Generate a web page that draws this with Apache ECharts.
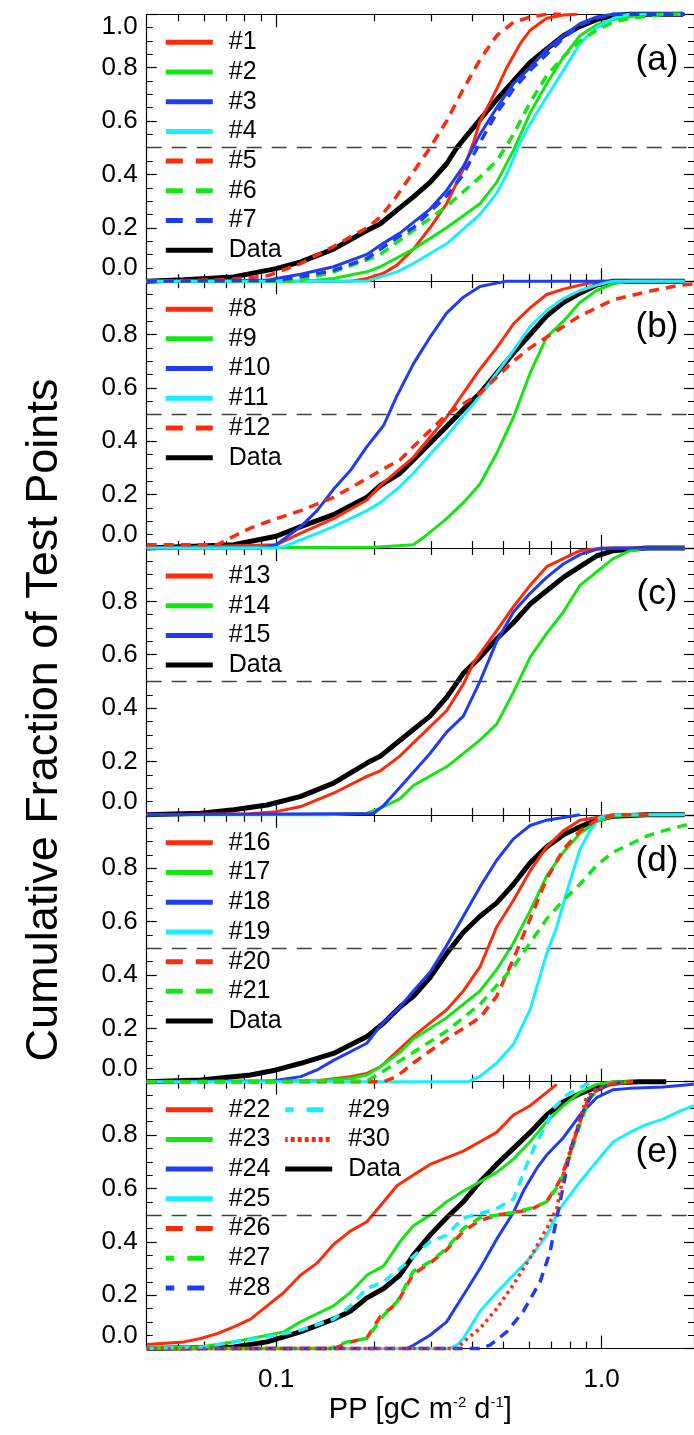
<!DOCTYPE html>
<html><head><meta charset="utf-8">
<script src="https://cdn.jsdelivr.net/npm/echarts@6/dist/echarts.min.js"></script>
<style>html,body{margin:0;padding:0;background:#fff}#c{width:694px;height:1435px}</style>
</head><body><div id="c"></div>
<script>
// ---------- axis values ----------
const X_MIN = 0.04, X_MAX = 1.923;
const xLabelValues = [0.1, 1.0];
const xMajorTicks = [0.1, 1.0];
const xMinorTicks = [0.05,0.06,0.07,0.08,0.09,0.2,0.3,0.4,0.5,0.6,0.7,0.8,0.9];
const yMin = 0, yMax = 1, yStep = 0.2;
const refLine = 0.5;
const panelLetters = ['(a)','(b)','(c)','(d)','(e)'];
const yTitle = 'Cumulative Fraction of Test Points';

// ---------- panel (a) ----------
const dataA = [[0.04,0],[0.052,0.005],[0.074,0.016],[0.1,0.047],[0.119,0.072],[0.15,0.12],[0.19,0.19],[0.209,0.215],[0.235,0.266],[0.264,0.316],[0.297,0.37],[0.334,0.44],[0.359,0.5],[0.376,0.53],[0.413,0.59],[0.476,0.68],[0.536,0.75],[0.603,0.82],[0.678,0.87],[0.763,0.92],[0.858,0.955],[0.965,0.98],[1.086,0.995],[1.22,1.0],[1.78,1.0]];
const m1 = [[0.04,0],[0.17,0],[0.19,0.01],[0.214,0.03],[0.235,0.06],[0.264,0.12],[0.297,0.2],[0.334,0.29],[0.376,0.42],[0.404,0.52],[0.423,0.6],[0.454,0.67],[0.476,0.72],[0.511,0.8],[0.562,0.89],[0.603,0.94],[0.678,0.985],[0.763,0.997],[0.84,1.0]];
const m2 = [[0.04,0],[0.124,0],[0.15,0.01],[0.19,0.035],[0.209,0.054],[0.264,0.12],[0.334,0.2],[0.423,0.29],[0.476,0.37],[0.536,0.49],[0.603,0.63],[0.678,0.74],[0.763,0.84],[0.858,0.92],[0.965,0.96],[1.086,0.98],[1.374,1.0],[1.8,1.0]];
const m3 = [[0.04,0],[0.094,0.003],[0.1,0.01],[0.119,0.026],[0.15,0.054],[0.19,0.1],[0.209,0.135],[0.24,0.18],[0.264,0.22],[0.297,0.27],[0.334,0.34],[0.376,0.43],[0.423,0.55],[0.476,0.65],[0.536,0.74],[0.603,0.8],[0.678,0.87],[0.763,0.92],[0.858,0.965],[0.965,0.99],[1.086,1.0],[1.8,1.0]];
const m4 = [[0.04,0],[0.19,0],[0.209,0.016],[0.235,0.035],[0.264,0.066],[0.334,0.14],[0.423,0.25],[0.476,0.33],[0.511,0.4],[0.562,0.52],[0.603,0.59],[0.678,0.69],[0.763,0.79],[0.858,0.89],[0.965,0.95],[1.086,0.985],[1.222,1.0],[1.78,1.0]];
const m5 = [[0.04,0],[0.07,0.005],[0.094,0.02],[0.119,0.066],[0.15,0.13],[0.19,0.2],[0.209,0.24],[0.235,0.32],[0.264,0.41],[0.297,0.5],[0.334,0.6],[0.376,0.72],[0.423,0.83],[0.476,0.92],[0.536,0.97],[0.603,0.99],[0.678,1.0],[0.75,1.0]];
const m6 = [[0.04,0],[0.11,0],[0.119,0.003],[0.15,0.035],[0.19,0.08],[0.209,0.1],[0.264,0.19],[0.334,0.28],[0.423,0.39],[0.476,0.45],[0.536,0.55],[0.603,0.67],[0.678,0.77],[0.763,0.84],[0.858,0.9],[0.965,0.94],[1.086,0.97],[1.222,0.985],[1.546,1.0],[1.78,1.0]];
const m7 = [[0.04,0],[0.1,0.003],[0.119,0.016],[0.15,0.04],[0.19,0.085],[0.24,0.17],[0.264,0.2],[0.334,0.32],[0.376,0.4],[0.423,0.52],[0.476,0.63],[0.536,0.72],[0.603,0.79],[0.678,0.85],[0.763,0.91],[0.858,0.96],[0.965,0.985],[1.086,1.0],[1.8,1.0]];
// ---------- panel (b) ----------
const dataB = [[0.04,0],[0.074,0.012],[0.1,0.044],[0.119,0.08],[0.15,0.125],[0.19,0.19],[0.209,0.235],[0.24,0.28],[0.264,0.33],[0.334,0.455],[0.376,0.52],[0.423,0.58],[0.476,0.655],[0.536,0.73],[0.603,0.8],[0.678,0.87],[0.763,0.92],[0.858,0.955],[0.965,0.985],[1.086,1.0],[1.8,1.0]];
const m8 = [[0.04,0],[0.1,0.012],[0.119,0.056],[0.15,0.11],[0.19,0.18],[0.209,0.235],[0.264,0.34],[0.334,0.49],[0.376,0.58],[0.423,0.67],[0.476,0.75],[0.536,0.84],[0.603,0.9],[0.678,0.95],[0.763,0.97],[0.858,0.985],[0.987,1.0],[1.8,1.0]];
const m9 = [[0.04,0],[0.2,0.003],[0.264,0.012],[0.284,0.04],[0.334,0.11],[0.376,0.17],[0.423,0.24],[0.476,0.355],[0.536,0.49],[0.603,0.655],[0.678,0.79],[0.763,0.85],[0.858,0.92],[0.965,0.965],[1.086,0.99],[1.222,1.0],[1.8,1.0]];
const m10 = [[0.04,0],[0.089,0],[0.1,0.012],[0.119,0.08],[0.1335,0.14],[0.15,0.22],[0.169,0.29],[0.19,0.38],[0.214,0.46],[0.235,0.57],[0.264,0.69],[0.297,0.79],[0.334,0.88],[0.376,0.94],[0.423,0.98],[0.51,1.0],[1.8,1.0]];
const m11 = [[0.04,0],[0.1,0],[0.106,0.006],[0.119,0.03],[0.15,0.08],[0.19,0.14],[0.209,0.17],[0.24,0.23],[0.264,0.28],[0.334,0.42],[0.423,0.57],[0.476,0.655],[0.536,0.74],[0.603,0.83],[0.678,0.89],[0.763,0.935],[0.858,0.965],[0.965,0.985],[1.086,1.0],[1.8,1.0]];
const m12 = [[0.04,0.012],[0.066,0.012],[0.074,0.044],[0.0834,0.075],[0.1,0.11],[0.119,0.14],[0.15,0.19],[0.19,0.26],[0.209,0.29],[0.24,0.33],[0.264,0.38],[0.334,0.5],[0.423,0.58],[0.476,0.64],[0.536,0.7],[0.603,0.75],[0.678,0.79],[0.763,0.83],[0.858,0.87],[0.965,0.9],[1.086,0.93],[1.374,0.96],[1.739,0.985],[1.92,0.99]];
// ---------- panel (c) ----------
const dataC = [[0.04,0],[0.0586,0.006],[0.0741,0.019],[0.0938,0.037],[0.119,0.069],[0.15,0.119],[0.19,0.194],[0.209,0.22],[0.235,0.27],[0.264,0.32],[0.297,0.37],[0.334,0.44],[0.376,0.53],[0.423,0.59],[0.476,0.66],[0.536,0.72],[0.603,0.79],[0.678,0.84],[0.763,0.89],[0.858,0.93],[0.965,0.97],[1.086,0.99],[1.374,1.0],[1.8,1.0]];
const m13 = [[0.04,0],[0.083,0.004],[0.1,0.012],[0.119,0.031],[0.15,0.081],[0.19,0.144],[0.209,0.165],[0.24,0.22],[0.264,0.27],[0.334,0.39],[0.376,0.49],[0.404,0.57],[0.476,0.69],[0.536,0.78],[0.603,0.86],[0.678,0.93],[0.763,0.96],[0.858,0.99],[1.01,1.0],[1.8,1.0]];
const m14 = [[0.04,0],[0.143,0],[0.19,0.006],[0.209,0.025],[0.24,0.06],[0.264,0.11],[0.334,0.18],[0.423,0.28],[0.476,0.34],[0.536,0.46],[0.603,0.59],[0.678,0.68],[0.763,0.76],[0.858,0.86],[0.965,0.91],[1.086,0.96],[1.222,0.99],[1.374,1.0],[1.8,1.0]];
const m15 = [[0.04,0],[0.199,0.005],[0.214,0.035],[0.235,0.09],[0.264,0.16],[0.297,0.23],[0.334,0.31],[0.376,0.37],[0.423,0.5],[0.476,0.65],[0.536,0.76],[0.603,0.83],[0.678,0.89],[0.763,0.94],[0.858,0.975],[0.965,0.995],[1.086,1.0],[1.8,1.0]];
// ---------- panel (d) ----------
const dataD = [[0.04,0],[0.0586,0.006],[0.0834,0.025],[0.1,0.044],[0.119,0.069],[0.15,0.106],[0.19,0.169],[0.214,0.22],[0.24,0.28],[0.264,0.32],[0.297,0.39],[0.334,0.48],[0.376,0.56],[0.423,0.62],[0.476,0.67],[0.536,0.74],[0.603,0.82],[0.678,0.88],[0.763,0.925],[0.858,0.955],[0.965,0.98],[1.086,0.995],[1.374,1.0],[1.8,1.0]];
const m16 = [[0.04,0],[0.1335,0.004],[0.169,0.019],[0.19,0.031],[0.209,0.056],[0.264,0.17],[0.334,0.27],[0.376,0.34],[0.423,0.43],[0.476,0.58],[0.536,0.68],[0.603,0.79],[0.678,0.88],[0.763,0.94],[0.858,0.98],[1.086,1.0],[1.8,1.0]];
const m17 = [[0.04,0],[0.1335,0.004],[0.169,0.012],[0.19,0.025],[0.209,0.056],[0.24,0.11],[0.264,0.16],[0.334,0.24],[0.423,0.34],[0.476,0.42],[0.536,0.52],[0.603,0.64],[0.678,0.77],[0.763,0.86],[0.858,0.93],[0.965,0.975],[1.086,0.995],[1.374,1.0],[1.8,1.0]];
const m18 = [[0.04,0],[0.0938,0],[0.119,0.019],[0.1335,0.044],[0.15,0.08],[0.19,0.144],[0.209,0.21],[0.24,0.28],[0.264,0.34],[0.297,0.41],[0.334,0.51],[0.376,0.62],[0.423,0.73],[0.476,0.83],[0.536,0.91],[0.603,0.96],[0.678,0.98],[0.858,1.0]];
const m19 = [[0.04,0],[0.39,0],[0.423,0.02],[0.476,0.07],[0.536,0.14],[0.603,0.27],[0.678,0.48],[0.728,0.58],[0.781,0.71],[0.858,0.87],[0.92,0.94],[0.987,0.99],[1.086,1.0],[1.8,1.0]];
const m20 = [[0.04,0],[0.214,0],[0.235,0.02],[0.264,0.07],[0.334,0.16],[0.423,0.24],[0.476,0.32],[0.536,0.46],[0.603,0.61],[0.678,0.76],[0.763,0.87],[0.858,0.94],[0.965,0.98],[1.086,1.0],[1.4,1.0]];
const m21 = [[0.04,0],[0.19,0.003],[0.214,0.04],[0.264,0.11],[0.334,0.19],[0.423,0.29],[0.536,0.43],[0.603,0.52],[0.678,0.61],[0.763,0.68],[0.858,0.74],[0.965,0.81],[1.086,0.86],[1.222,0.89],[1.374,0.92],[1.546,0.94],[1.92,0.97]];
// ---------- panel (e) ----------
const dataE = [[0.04,0],[0.0741,0.006],[0.0938,0.025],[0.1187,0.0625],[0.15,0.11],[0.169,0.14],[0.19,0.19],[0.214,0.225],[0.24,0.275],[0.264,0.35],[0.297,0.425],[0.334,0.49],[0.376,0.55],[0.423,0.625],[0.476,0.69],[0.536,0.75],[0.603,0.81],[0.678,0.875],[0.763,0.925],[0.858,0.955],[0.965,0.98],[1.086,0.995],[1.3,1.0],[1.58,1.0]];
const m22 = [[0.04,0.015],[0.0521,0.025],[0.0586,0.0375],[0.0659,0.056],[0.0741,0.081],[0.0834,0.11],[0.0938,0.16],[0.1055,0.21],[0.1187,0.275],[0.1335,0.32],[0.15,0.39],[0.169,0.44],[0.19,0.475],[0.214,0.55],[0.235,0.61],[0.264,0.65],[0.297,0.69],[0.376,0.74],[0.423,0.775],[0.476,0.81],[0.536,0.875],[0.603,0.91],[0.678,0.96],[0.728,0.99]];
const m23 = [[0.04,0.006],[0.0586,0.006],[0.0741,0.025],[0.0938,0.05],[0.1055,0.0625],[0.1187,0.1],[0.15,0.16],[0.169,0.21],[0.19,0.275],[0.214,0.31],[0.24,0.4],[0.264,0.46],[0.297,0.5],[0.334,0.55],[0.376,0.59],[0.423,0.625],[0.476,0.66],[0.536,0.71],[0.603,0.775],[0.678,0.85],[0.763,0.91],[0.858,0.96],[0.965,0.99],[1.086,1.0],[1.22,1.0]];
const m24 = [[0.04,0],[0.252,0],[0.264,0.0125],[0.297,0.05],[0.334,0.1],[0.376,0.2],[0.423,0.3],[0.476,0.41],[0.536,0.51],[0.575,0.59],[0.632,0.675],[0.678,0.725],[0.763,0.79],[0.858,0.875],[0.965,0.94],[1.086,0.97],[1.222,0.975],[1.546,0.98],[1.92,0.99]];
const m25 = [[0.04,0],[0.34,0],[0.359,0.0125],[0.376,0.0375],[0.423,0.14],[0.476,0.21],[0.536,0.275],[0.603,0.34],[0.678,0.425],[0.745,0.525],[0.858,0.625],[0.965,0.7],[1.086,0.775],[1.222,0.81],[1.374,0.84],[1.546,0.86],[1.739,0.89],[1.92,0.91]];
const m26 = [[0.04,0],[0.15,0],[0.17,0.025],[0.19,0.04],[0.209,0.12],[0.235,0.17],[0.264,0.28],[0.297,0.32],[0.334,0.37],[0.376,0.44],[0.423,0.48],[0.476,0.5],[0.536,0.51],[0.603,0.52],[0.678,0.55],[0.745,0.63],[0.799,0.73],[0.858,0.85],[0.92,0.95],[1.035,0.99],[1.25,1.0]];
const m27 = [[0.04,0],[0.146,0],[0.165,0.025],[0.19,0.0375],[0.214,0.125],[0.235,0.175],[0.264,0.29],[0.297,0.325],[0.334,0.375],[0.376,0.45],[0.423,0.49],[0.476,0.5],[0.536,0.51],[0.603,0.525],[0.678,0.55],[0.745,0.62],[0.799,0.72],[0.858,0.84],[0.92,0.94],[1.035,0.99],[1.25,1.0]];
const m28 = [[0.04,0],[0.423,0],[0.454,0.0125],[0.511,0.0625],[0.575,0.14],[0.647,0.25],[0.694,0.36],[0.728,0.49],[0.763,0.61],[0.799,0.74],[0.837,0.81],[0.878,0.89],[0.941,0.96],[1.059,0.99],[1.2,1.0]];
const m29 = [[0.04,0],[0.06,0.006],[0.0741,0.025],[0.0938,0.044],[0.1187,0.069],[0.15,0.11],[0.169,0.16],[0.19,0.225],[0.214,0.25],[0.24,0.3],[0.264,0.345],[0.297,0.4],[0.334,0.425],[0.376,0.49],[0.423,0.505],[0.476,0.525],[0.536,0.56],[0.589,0.69],[0.632,0.775],[0.678,0.84],[0.711,0.9],[0.781,0.95],[0.898,0.99],[0.95,1.0]];
const m30 = [[0.04,0],[0.36,0],[0.376,0.025],[0.423,0.075],[0.476,0.15],[0.536,0.24],[0.603,0.34],[0.678,0.45],[0.728,0.525],[0.763,0.65],[0.799,0.74],[0.858,0.86],[0.898,0.94],[0.965,0.975],[1.086,0.99],[1.2,1.0]];

// ---------- styles / layout ----------
const RED='#ff2a0a', GREEN='#14e614', BLUE='#1f3cf0', CYAN='#14f0ff', BLACK='#000000';
const FONT = '"Liberation Sans", Arial, Helvetica, sans-serif';
const DASH=[10,7], DOT=[3,4];
const panels = [
  {data:dataA, models:[['#1',m1,RED,'s'],['#2',m2,GREEN,'s'],['#3',m3,BLUE,'s'],['#4',m4,CYAN,'s'],['#5',m5,RED,'d'],['#6',m6,GREEN,'d'],['#7',m7,BLUE,'d']]},
  {data:dataB, models:[['#8',m8,RED,'s'],['#9',m9,GREEN,'s'],['#10',m10,BLUE,'s'],['#11',m11,CYAN,'s'],['#12',m12,RED,'d']]},
  {data:dataC, models:[['#13',m13,RED,'s'],['#14',m14,GREEN,'s'],['#15',m15,BLUE,'s']]},
  {data:dataD, models:[['#16',m16,RED,'s'],['#17',m17,GREEN,'s'],['#18',m18,BLUE,'s'],['#19',m19,CYAN,'s'],['#20',m20,RED,'d'],['#21',m21,GREEN,'d']]},
  {data:dataE, models:[['#22',m22,RED,'s'],['#23',m23,GREEN,'s'],['#24',m24,BLUE,'s'],['#25',m25,CYAN,'s'],['#26',m26,RED,'d'],['#27',m27,GREEN,'d'],['#28',m28,BLUE,'d'],['#29',m29,CYAN,'d'],['#30',m30,RED,'o']]}
];
const LMIN = Math.log10(X_MIN), LMAX = Math.log10(X_MAX);
const DECADE = 326;
const GRID_LEFT = 146.7, GRID_W = DECADE*(LMAX-LMIN);
const GRID_TOP0 = 14.3, GRID_H = 266.85;
const AX = {color:'#000', width:1.2};

const grid=[], xAxis=[], yAxis=[], series=[], legend=[], graphic=[];
panels.forEach((p,i)=>{
  const top = GRID_TOP0 + i*GRID_H;
  grid.push({left:GRID_LEFT, top:top, width:GRID_W, height:GRID_H});
  const last = i===panels.length-1;
  const mk = (pos, ticks, len, main) => ({
    gridIndex:i, type:'value', min:LMIN, max:LMAX, position:pos,
    axisLine:{show:main, onZero:false, lineStyle:AX},
    axisTick:{show:true, inside:true, length:len, customValues:ticks.map(Math.log10), lineStyle:AX},
    axisLabel: (main && pos==='bottom' && last) ? {show:true, customValues:xLabelValues.map(Math.log10),
        formatter:v=>Math.pow(10,v).toFixed(1), fontSize:26, color:'#000', fontFamily:FONT, margin:18} : {show:false},
    splitLine:{show:false},
    name: (main && pos==='bottom' && last) ? '{n|PP [gC m}{s|-2}{n| d}{s|-1}{n|]}' : '',
    nameLocation:'middle', nameGap:47,
    nameTextStyle:{rich:{n:{fontSize:29, fontFamily:FONT, color:'#000'}, s:{fontSize:15, fontFamily:FONT, color:'#000', padding:[0,0,14,0]}}}
  });
  xAxis.push(mk('bottom', xMajorTicks, 13, true));
  xAxis.push(mk('bottom', xMinorTicks, 7, false));
  xAxis.push(mk('top', xMajorTicks, 13, true));
  xAxis.push(mk('top', xMinorTicks, 7, false));
  const ya = (pos, lab) => ({
    gridIndex:i, type:'value', min:yMin, max:yMax, interval:yStep, position:pos,
    axisLine:{show:true, onZero:false, lineStyle:AX},
    axisTick:{show:true, inside:true, length:10, lineStyle:AX},
    minorTick:{show:true, splitNumber:4, length:6, lineStyle:{color:'#000', width:1}},
    splitLine:{show:false}, minorSplitLine:{show:false},
    axisLabel: lab ? {show:true, fontSize:26, color:'#000', fontFamily:FONT, margin:9,
      formatter:v=> (i>0 && v>=1) ? '' : v.toFixed(1),
      verticalAlignMinLabel:'bottom', verticalAlignMaxLabel:'top'} : {show:false}
  });
  yAxis.push(ya('left', true));
  yAxis.push(ya('right', false));
  const dname = 'Data ' + panelLetters[i];
  series.push({type:'line', name:dname, xAxisIndex:4*i, yAxisIndex:2*i,
    data:p.data.map(d=>[Math.log10(d[0]), d[1]]), symbol:'none', showSymbol:false, clip:false, z:2,
    lineStyle:{color:BLACK, width:5}, itemStyle:{color:BLACK}, animation:false, silent:true,
    markLine:{silent:true, symbol:'none', label:{show:false}, animation:false,
      lineStyle:{color:'#404040', width:1.3, type:[15,10]}, data:[{yAxis:refLine}]}
  });
  p.models.forEach((m,k)=>{
    const t = m[3]==='s' ? 'solid' : (m[3]==='d' ? DASH : DOT);
    const ls = {color:m[2], width: m[3]==='s' ? 3 : 3.5, type:t};
    if (m[0]==='#27') ls.dashOffset = 8.5;
    series.push({type:'line', name:m[0], xAxisIndex:4*i, yAxisIndex:2*i,
      data:m[1].map(d=>[Math.log10(d[0]), d[1]]), symbol:'none', showSymbol:false, clip:false, z:3+k,
      lineStyle:ls, itemStyle:{color:m[2]}, animation:false, silent:true});
  });
  const legItem = m => {
    const o = {name:m[0]};
    if (m[3]==='d') o.lineStyle = {type:[17,13]};
    if (m[3]==='o') o.lineStyle = {type:[4,3]};
    return o;
  };
  const legBase = {orient:'vertical', itemWidth:47, itemHeight:22, itemGap:4.7, padding:0,
    selectedMode:false, formatter:n=> n.indexOf('Data')===0 ? 'Data' : n,
    itemStyle:{opacity:0, borderWidth:0},
    lineStyle:{width:5},
    textStyle:{fontSize:25, lineHeight:22, color:'#000', fontFamily:FONT, padding:[0,0,0,11]}};
  const legTop = top + 15.5;
  if (i<4) {
    legend.push(Object.assign({}, legBase, {left:163.3, top:legTop,
      data:p.models.map(legItem).concat([{name:dname}])}));
  } else {
    legend.push(Object.assign({}, legBase, {left:163.3, top:legTop,
      data:p.models.slice(0,7).map(legItem)}));
    legend.push(Object.assign({}, legBase, {left:282.7, top:legTop,
      data:p.models.slice(7).map(legItem).concat([{name:dname}])}));
  }
  graphic.push({type:'text', x:657, y: top + (i===4 ? 71 : 46), silent:true,
    style:{text:panelLetters[i], fontSize:35, fontFamily:FONT, fill:'#000', align:'center', verticalAlign:'middle'}});
});
graphic.push({type:'text', x:45, y:720, rotation:Math.PI/2, silent:true,
  style:{text:yTitle, fontSize:45, fontFamily:FONT, fill:'#000', align:'center', verticalAlign:'middle'}});

const chart = echarts.init(document.getElementById('c'), null, {renderer:'canvas'});
chart.setOption({animation:false, backgroundColor:'#fff', grid, xAxis, yAxis, series, legend, graphic});
</script></body></html>
